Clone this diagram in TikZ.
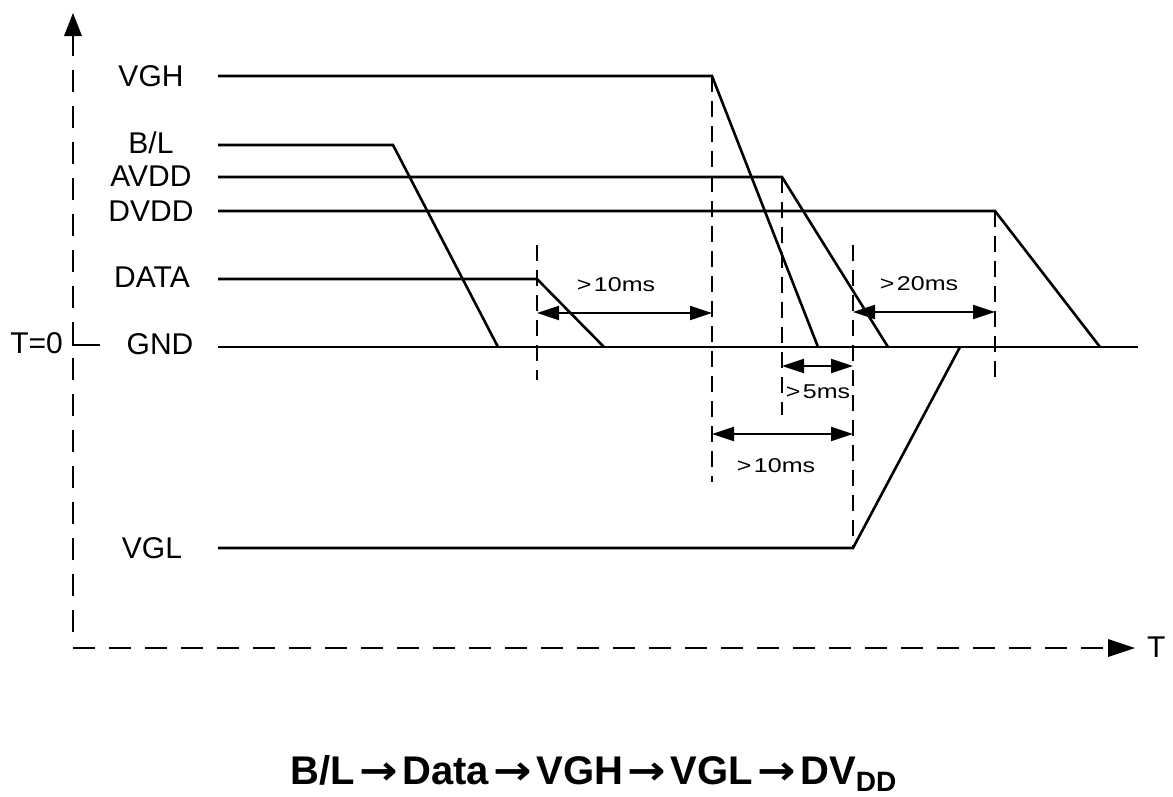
\documentclass[tikz,border=0pt]{standalone}
\usepackage{fontspec}
\setmainfont{Liberation Sans}
\newfontfamily\arrfont{DejaVu Sans}
\usetikzlibrary{arrows.meta}
\newcommand\capArr{\kern4.5pt{\arrfont\bfseries\scalebox{1.15}[1]{→}}\kern4.5pt}
\newcommand\msText[1]{\scalebox{1.25}[1]{#1}}
\begin{document}
\begin{tikzpicture}[x=1pt,y=-1pt,
  sig/.style={line width=2.6pt, line join=miter},
  guide/.style={line width=2.4pt, dash pattern=on 16pt off 9pt},
  axisline/.style={line width=2.6pt, dash pattern=on 22pt off 14pt},
  dim/.style={line width=2pt, {Triangle[length=22pt,width=14pt]}-{Triangle[length=22pt,width=14pt]}},
  lab/.style={font=\fontsize{30}{36}\selectfont, inner sep=0pt},
  ms/.style={font=\fontsize{20}{24}\selectfont, inner sep=0pt},
  captext/.style={font=\fontsize{40}{46}\selectfont\bfseries, inner sep=0pt},
]
\useasboundingbox (0,0) rectangle (1173,796);

% axes
\coordinate (O) at (73,648);
\coordinate (Ytip) at (73,13);
\coordinate (Xtip) at (1135,648);
\draw[axisline] (73,632) -- (73,36);
\fill (Ytip) -- (64,36) -- (82,36) -- cycle;
\draw[axisline] (O) -- (1108,648);
\fill (Xtip) -- (1108,639) -- (1108,657) -- cycle;
\node[lab, anchor=west] (T) at (1147,647) {T};
\draw[sig] (73,325) -- (73,345) -- (100,345);
\node[lab, anchor=east] (T0) at (63,343) {T=0};

% signal labels
\node[lab] (lVGH) at (151,76) {VGH};
\node[lab] (lBL) at (151,143) {B/L};
\node[lab] (lAVDD) at (151,176) {AVDD};
\node[lab] (lDVDD) at (151,211) {DVDD};
\node[lab] (lDATA) at (152,277) {DATA};
\node[lab] (lGND) at (160,344) {GND};
\node[lab] (lVGL) at (152,548) {VGL};

% key points
\coordinate (vgh0) at (218,76);  \coordinate (vgh1) at (712,76);  \coordinate (vgh2) at (818,347);
\coordinate (bl0) at (218,145);  \coordinate (bl1) at (393,145);  \coordinate (bl2) at (498,347);
\coordinate (av0) at (218,177);  \coordinate (av1) at (782,177);  \coordinate (av2) at (888,347);
\coordinate (dv0) at (218,211);  \coordinate (dv1) at (995,211);  \coordinate (dv2) at (1100,347);
\coordinate (da0) at (218,279);  \coordinate (da1) at (537,279);  \coordinate (da2) at (604,347);
\coordinate (g0) at (218,347);   \coordinate (g1) at (1138,347);
\coordinate (vl0) at (218,548);  \coordinate (vl1) at (853,548);  \coordinate (vl2) at (960,347);

% signals
\draw[sig] (vgh0) -- (vgh1) -- (vgh2);
\draw[sig] (bl0) -- (bl1) -- (bl2);
\draw[sig] (av0) -- (av1) -- (av2);
\draw[sig] (dv0) -- (dv1) -- (dv2);
\draw[sig] (da0) -- (da1) -- (da2);
\draw[sig] (g0) -- (g1);
\draw[sig] (vl0) -- (vl1) -- (vl2);

% guide lines
\draw[guide] (537,245) -- (537,380);
\draw[guide] (vgh1) -- (712,482);
\draw[guide] (av1) -- (782,415);
\draw[guide] (853,245) -- (vl1);
\draw[guide] (dv1) -- (995,380);

% dimensions
\draw[dim] (537,313) -- (712,313);
\node[ms] (m1) at (616,285) {\msText{>\kern2pt10ms}};
\draw[dim] (782,366) -- (853,366);
\node[ms] (m2) at (818,392) {\msText{>\kern2pt5ms}};
\draw[dim] (712,434) -- (853,434);
\node[ms] (m3) at (776,466) {\msText{>\kern2pt10ms}};
\draw[dim] (853,312) -- (995,312);
\node[ms] (m4) at (919,284) {\msText{>\kern2pt20ms}};

% caption
\node[captext, anchor=base west] (captn) at (290,784) {B/L\capArr Data\capArr VGH\capArr VGL\capArr DV\raisebox{-7pt}{\fontsize{28}{30}\selectfont DD}};
\end{tikzpicture}
\end{document}
